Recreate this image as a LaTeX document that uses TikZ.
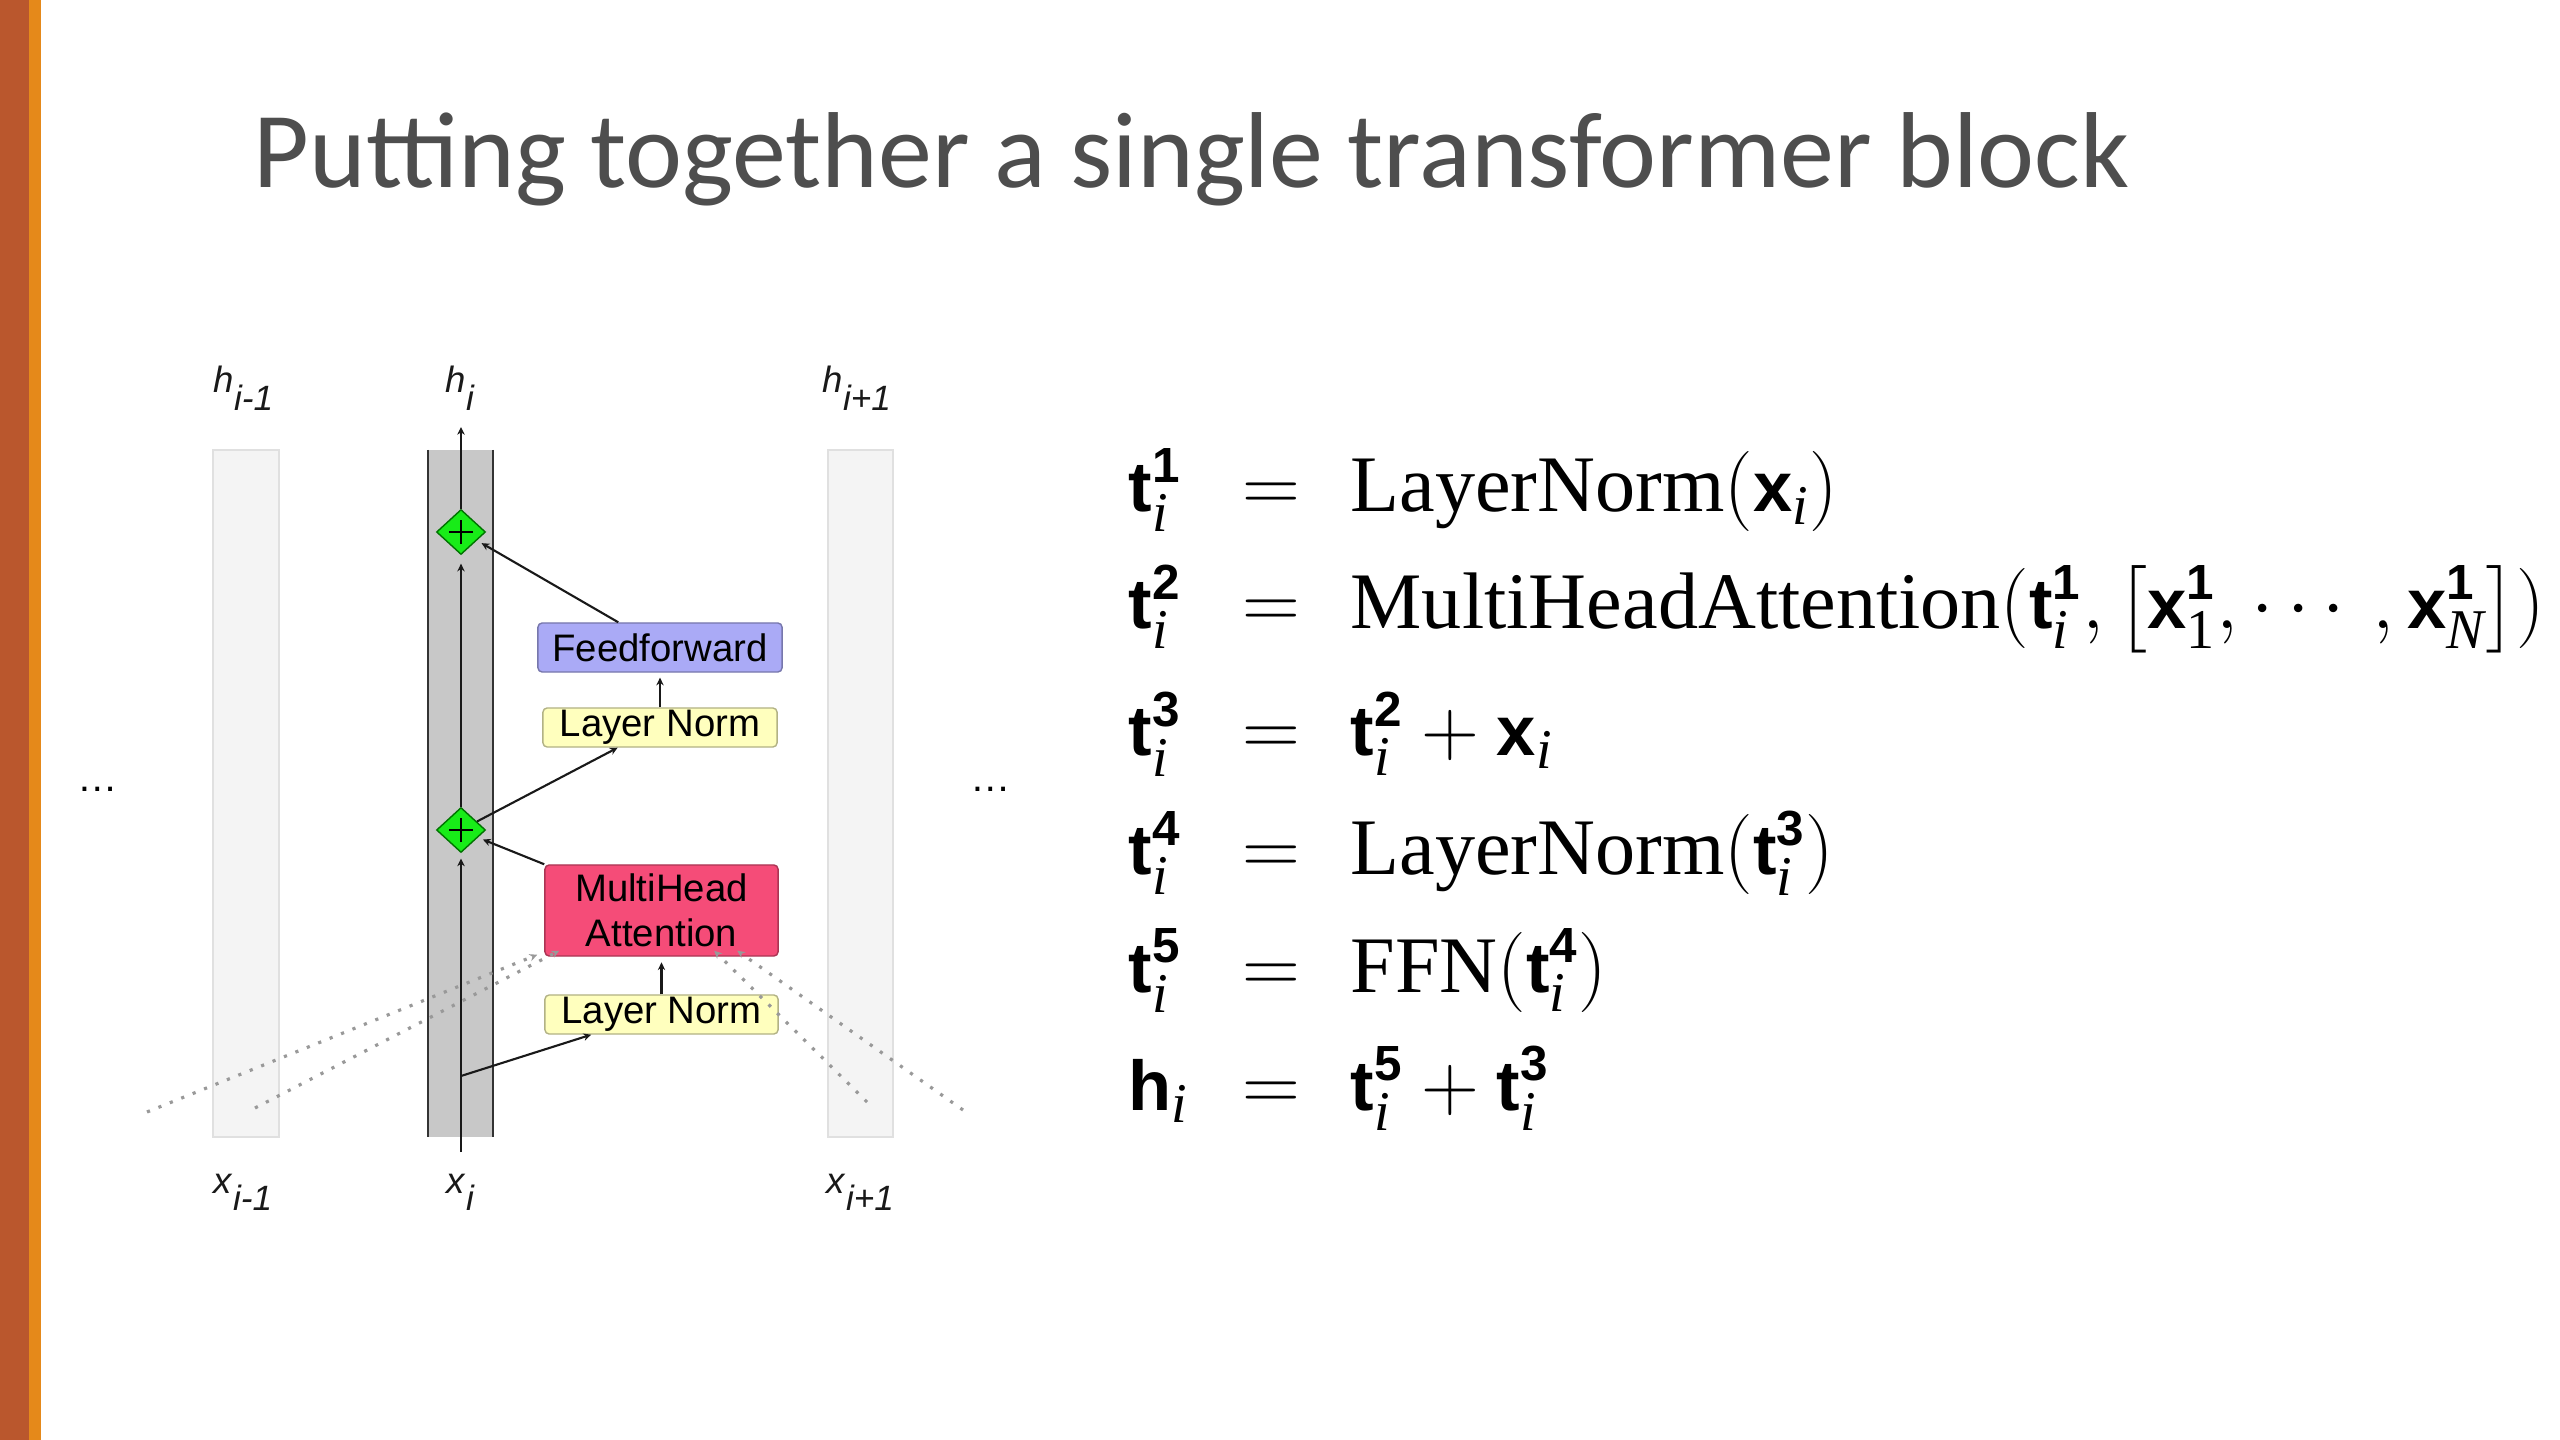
\RequirePackage{fix-cm}
\documentclass[tikz,border=0pt]{standalone}
\usepackage{amsmath}
\usepackage{fontspec}
\setmainfont{Liberation Serif}
\setsansfont{Liberation Sans}
\newfontfamily\titlefont{Carlito}
\newfontfamily\diagfont{Liberation Sans}
\newfontfamily\bsans[Scale=0.88]{Liberation Sans}
\usetikzlibrary{shapes.geometric,arrows.meta,calc}
\definecolor{bardark}{RGB}{186,87,45}
\definecolor{barlight}{RGB}{229,137,26}
\definecolor{titlegray}{RGB}{78,78,78}
\definecolor{colgray}{RGB}{200,200,200}
\definecolor{colpale}{RGB}{244,244,244}
\definecolor{ffcol}{RGB}{170,170,246}
\definecolor{lncol}{RGB}{255,255,190}
\definecolor{mhacol}{RGB}{245,76,120}
\definecolor{plusgreen}{RGB}{24,236,24}
\newcommand{\vb}[1]{\text{\bsans\bfseries #1}}
\newcommand{\isub}{\text{\itshape i}}
\newcommand{\lab}[2]{\textit{#1}\raisebox{-0.48em}{\fontsize{10}{10}\selectfont\textit{#2}}}
\tikzset{
  blk/.style={draw=#1!70!black, line width=0.4pt, rounded corners=1.2pt, inner sep=0pt, font=\diagfont\fontsize{10.9}{12.8}\selectfont, text=black, align=center},
  plusnode/.style={shape=diamond, fill=plusgreen, draw=black!55!green, line width=0.4pt, minimum width=0.49cm, minimum height=0.45cm, inner sep=0pt},
  plusbar/.style={line width=0.6pt, black},
  conn/.style={line width=0.6pt, black!90, -{Stealth[length=2.2pt,width=2.1pt]}},
  dotconn/.style={line width=0.9pt, black!40, dash pattern=on 0.9pt off 2.6pt, -{Stealth[length=2.2pt,width=2.1pt]}},
  lbl/.style={anchor=base west, inner sep=0pt, font=\diagfont\fontsize{10.4}{10.4}\selectfont, text=black!90},
  eqn/.style={inner sep=0pt, font=\fontsize{22.8}{27}\selectfont},
}
\begin{document}
\begin{tikzpicture}[x=0.01cm,y=-0.01cm]
\useasboundingbox (0,0) rectangle (2560,1440);
\fill[white] (0,0) rectangle (2560,1440);
% side bars
\fill[bardark] (0,0) rectangle (29,1440);
\fill[barlight] (29,0) rectangle (41,1440);
% title
\node[anchor=base west, inner sep=0pt, font=\titlefont\fontsize{30.7}{36}\selectfont, text=titlegray] (title) at (253,188) {Putting together a single transformer block};
% columns
\draw[fill=colpale, draw=black!12, line width=0.4pt] (213,450) rectangle (279,1137);
\draw[fill=colpale, draw=black!12, line width=0.4pt] (828,450) rectangle (893,1137);
\fill[colgray] (428,450) rectangle (493,1137);
\draw[black!80, line width=0.55pt] (428,450) -- (428,1137);
\draw[black!80, line width=0.55pt] (493,450) -- (493,1137);
% boxes
\node[blk=ffcol, fill=ffcol, minimum width=2.44cm, minimum height=0.49cm] (ff) at (660,647.5) {Feedforward};
\node[blk=lncol, fill=lncol, minimum width=2.34cm, minimum height=0.39cm] (ln2) at (660,727.5) {Layer Norm};
\node[blk=mhacol, fill=mhacol, minimum width=2.33cm, minimum height=0.91cm] (mha) at (661.5,910.5) {MultiHead\\Attention};
\node[blk=lncol, fill=lncol, minimum width=2.33cm, minimum height=0.39cm] (ln1) at (661.5,1014.5) {Layer Norm};
% plus nodes
\node[plusnode] (p2) at (461,532) {};
\node[plusnode] (p1) at (461,830) {};
\foreach \p in {p1,p2}{
  \draw[plusbar] ([xshift=-0.12cm]\p.center) -- ([xshift=0.12cm]\p.center);
  \draw[plusbar] ([yshift=-0.12cm]\p.center) -- ([yshift=0.12cm]\p.center);
}
% coordinates
\coordinate (xin) at (461,1152);
\coordinate (hout) at (461,427);
\coordinate (br) at (461,1076);
\coordinate (d1s) at (147,1112);
\coordinate (d2s) at (255,1108);
\coordinate (d3s) at (867,1102);
\coordinate (d4s) at (963,1110);
\coordinate (d1e) at ($(mha.south west)+(-7,-2)$);
\coordinate (d2e) at ($(mha.south west)+(15,-6)$);
\coordinate (d3e) at ($(mha.south west)+(170,-6)$);
\coordinate (d4e) at ($(mha.south west)+(193,-6)$);
% dotted attention inputs
\draw[dotconn] (d1s) -- (d1e);
\draw[dotconn] (d2s) -- (d2e);
\draw[dotconn] (d3s) -- (d3e);
\draw[dotconn] (d4s) -- (d4e);
% main connectors
\draw[conn, shorten >=1.5pt] (xin) -- (p1.south);
\draw[conn, shorten >=2.4pt] (p1.north) -- (p2.south);
\draw[conn] (p2.north) -- (hout);
\draw[conn] (br) -- ($(ln1.south west)!0.2!(ln1.south east)$);
\draw[conn, shorten >=1.6pt] (ln1.north) -- (mha.south);
\draw[conn, shorten >=1.5pt] (mha.north west) -- (p1.-24);
\draw[conn] (p1.28) -- ($(ln2.south west)!0.32!(ln2.south east)$);
\draw[conn, shorten >=1.5pt] ($(ff.north west)!0.33!(ff.north east)$) -- (p2.-28);
\draw[conn, shorten >=1.4pt] (ln2.north) -- (ff.south);
% labels
\node[lbl] (hm) at (213,393) {\lab{h}{i-1}};
\node[lbl] (hc) at (445,393) {\lab{h}{i}};
\node[lbl] (hp) at (822,393) {\lab{h}{i+1}};
\node[lbl] (xm) at (213,1193) {\lab{x}{i-1}};
\node[lbl] (xc) at (446,1193) {\lab{x}{i}};
\node[lbl] (xp) at (826,1193) {\lab{x}{i+1}};
\node[anchor=base, inner sep=0pt, font=\diagfont\fontsize{11.5}{11.5}\selectfont] (dl) at (98,792) {\ldots};
\node[anchor=base, inner sep=0pt, font=\diagfont\fontsize{11.5}{11.5}\selectfont] (dr) at (991,792) {\ldots};
% equations
\foreach \y/\l/\r [count=\k] in {
 512/{\vb{t}_{\isub}^{\vb{1}}}/{\text{LayerNorm}(\vb{x}_{\isub})},
 629/{\vb{t}_{\isub}^{\vb{2}}}/{\text{MultiHeadAttention}(\vb{t}_{\isub}^{\vb{1}},\bigl[\vb{x}_{\text{1}}^{\vb{1}},\cdots,\vb{x}_{\text{\itshape N}}^{\vb{1}}\bigr])},
 756/{\vb{t}_{\isub}^{\vb{3}}}/{\vb{t}_{\isub}^{\vb{2}}+\vb{x}_{\isub}},
 875/{\vb{t}_{\isub}^{\vb{4}}}/{\text{LayerNorm}(\vb{t}_{\isub}^{\vb{3}})},
 992/{\vb{t}_{\isub}^{\vb{5}}}/{\text{FFN}(\vb{t}_{\isub}^{\vb{4}})},
 1110/{\vb{h}_{\isub}}/{\vb{t}_{\isub}^{\vb{5}}+\vb{t}_{\isub}^{\vb{3}}}}{
  \node[eqn, anchor=base west] (lhs\k) at (1128,\y) {$\l$};
  \node[eqn, anchor=base] (eq\k) at (1271,\y) {$=$};
  \node[eqn, anchor=base west] (rhs\k) at (1350,\y) {$\r$};
}
\end{tikzpicture}
\end{document}
